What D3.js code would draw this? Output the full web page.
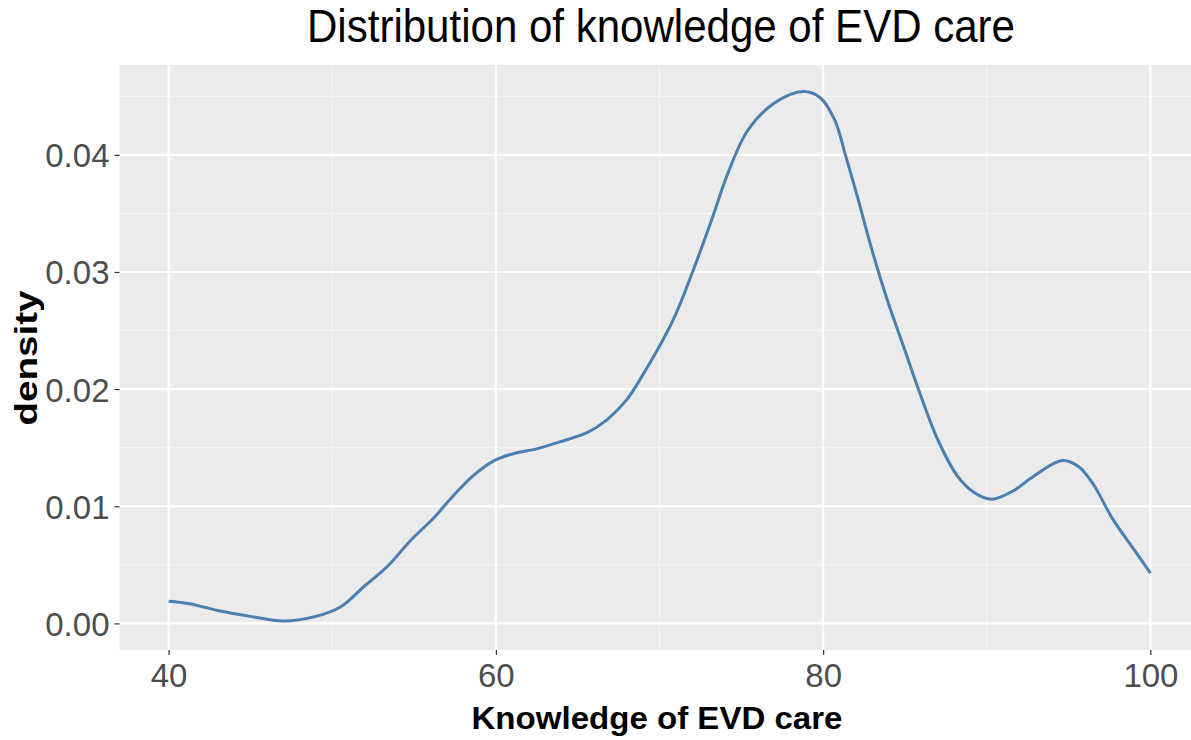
<!DOCTYPE html>
<html>
<head>
<meta charset="utf-8">
<script src="https://cdn.jsdelivr.net/npm/d3@7"></script>
<style>
  body { margin: 0; background: #fff; }
  text { font-family: "Liberation Sans", Arial, sans-serif; }
</style>
</head>
<body>
<div id="viz"></div>
<script>
// density curve
var knowledge = [40, 41.2, 43, 45, 47, 49, 50.5, 51.9, 53.4, 54.8, 56.2, 57.4, 58.6, 59.9, 61.1, 62.5, 63.9, 65.6, 66.8, 68, 68.8,
    70.8, 72.1, 73.2, 74.2, 75.4, 77, 78.8, 79.8, 80.7, 81.4, 82.1, 83, 83.9, 84.9, 85.9, 87, 88.2, 89.2, 90.3, 91.6, 92.8,
    94.6, 95.6, 96.5, 97.7, 99, 100];
var density = [0.0019, 0.0017, 0.0011, 0.0006, 0.0002, 0.0006, 0.0014, 0.0031, 0.0049, 0.0071, 0.0090, 0.0109, 0.0126, 0.0139,
    0.0145, 0.0149, 0.0155, 0.0163, 0.0174, 0.0191, 0.0208, 0.0258, 0.0303, 0.0345, 0.0385, 0.0421, 0.0444, 0.0454, 0.0449,
    0.0430, 0.0398, 0.0364, 0.0318, 0.0277, 0.0237, 0.0197, 0.0157, 0.0126, 0.0112, 0.0106, 0.0113, 0.0125, 0.0139, 0.0134,
    0.0119, 0.0089, 0.0063, 0.0043];
var xTicks = [40, 60, 80, 100];
var xMinor = [50, 70, 90];
var yTicks = [0, 0.01, 0.02, 0.03, 0.04];
var yMinor = [0.005, 0.015, 0.025, 0.035, 0.045];

var width = 1191, height = 740;
var panel = { left: 119.5, right: 1199.5, top: 65, bottom: 650 };

var svg = d3.select("#viz").append("svg")
    .attr("width", width)
    .attr("height", height);

// ggplot style 5% expansion
var xr = d3.extent(knowledge), yr = d3.extent(density);
var xPad = (xr[1] - xr[0]) * 0.05, yPad = (yr[1] - 0) * 0.05;
var xScale = d3.scaleLinear()
    .domain([xr[0] - xPad, xr[1] + xPad])
    .range([panel.left, panel.right]);
var yScale = d3.scaleLinear()
    .domain([0 - yPad, yr[1] + yPad])
    .range([panel.bottom, panel.top]);

svg.append("rect")
    .attr("x", panel.left).attr("y", panel.top)
    .attr("width", panel.right - panel.left)
    .attr("height", panel.bottom - panel.top)
    .attr("fill", "#ebebeb");

var grid = svg.append("g");
grid.selectAll(".xminor").data(xMinor).enter().append("line")
    .attr("x1", d => xScale(d)).attr("x2", d => xScale(d))
    .attr("y1", panel.top).attr("y2", panel.bottom)
    .attr("stroke", "#f7f7f7").attr("stroke-width", 1);
grid.selectAll(".yminor").data(yMinor).enter().append("line")
    .attr("y1", d => yScale(d)).attr("y2", d => yScale(d))
    .attr("x1", panel.left).attr("x2", panel.right)
    .attr("stroke", "#f7f7f7").attr("stroke-width", 1);
grid.selectAll(".xmajor").data(xTicks).enter().append("line")
    .attr("x1", d => xScale(d)).attr("x2", d => xScale(d))
    .attr("y1", panel.top).attr("y2", panel.bottom)
    .attr("stroke", "#fff").attr("stroke-width", 2.2);
grid.selectAll(".ymajor").data(yTicks).enter().append("line")
    .attr("y1", d => yScale(d)).attr("y2", d => yScale(d))
    .attr("x1", panel.left).attr("x2", panel.right)
    .attr("stroke", "#fff").attr("stroke-width", 2.2);

// axes
var xAxis = svg.append("g")
    .attr("transform", "translate(0," + panel.bottom + ")")
    .call(d3.axisBottom(xScale).tickValues(xTicks).tickSize(5).tickPadding(9).tickFormat(d3.format("d")));
var yAxis = svg.append("g")
    .attr("transform", "translate(" + panel.left + ",0)")
    .call(d3.axisLeft(yScale).tickValues(yTicks).tickSize(5).tickPadding(5).tickFormat(d3.format(".2f")));

[xAxis, yAxis].forEach(function (ax) {
    ax.select(".domain").remove();
    ax.selectAll(".tick line").attr("stroke", "#333").attr("stroke-width", 1.2);
    ax.selectAll(".tick text")
        .attr("fill", "#4d4d4d")
        .style("font-size", "33px")
        .style("font-family", "'Liberation Sans', Arial, sans-serif");
});
yAxis.selectAll(".tick text").attr("dy", "0.36em");

var line = d3.line()
    .x(function (d, i) { return xScale(knowledge[i]); })
    .y(function (d) { return yScale(d); })
    .curve(d3.curveCatmullRom.alpha(0.5));

svg.append("path")
    .datum(density)
    .attr("d", line)
    .attr("fill", "none")
    .attr("stroke", "#4a7fb0")
    .attr("stroke-width", 3);

// titles
svg.append("text")
    .attr("x", 661).attr("y", 42)
    .attr("text-anchor", "middle")
    .attr("textLength", 708).attr("lengthAdjust", "spacingAndGlyphs")
    .style("font-size", "46px")
    .attr("fill", "#000")
    .text("Distribution of knowledge of EVD care");

svg.append("text")
    .attr("x", 657).attr("y", 729)
    .attr("text-anchor", "middle")
    .attr("textLength", 371).attr("lengthAdjust", "spacingAndGlyphs")
    .style("font-size", "32px").style("font-weight", "bold")
    .attr("fill", "#000")
    .text("Knowledge of EVD care");

svg.append("text")
    .attr("transform", "translate(37,358) rotate(-90)")
    .attr("text-anchor", "middle")
    .attr("textLength", 135).attr("lengthAdjust", "spacingAndGlyphs")
    .style("font-size", "32px").style("font-weight", "bold")
    .attr("fill", "#000")
    .text("density");
</script>
</body>
</html>
